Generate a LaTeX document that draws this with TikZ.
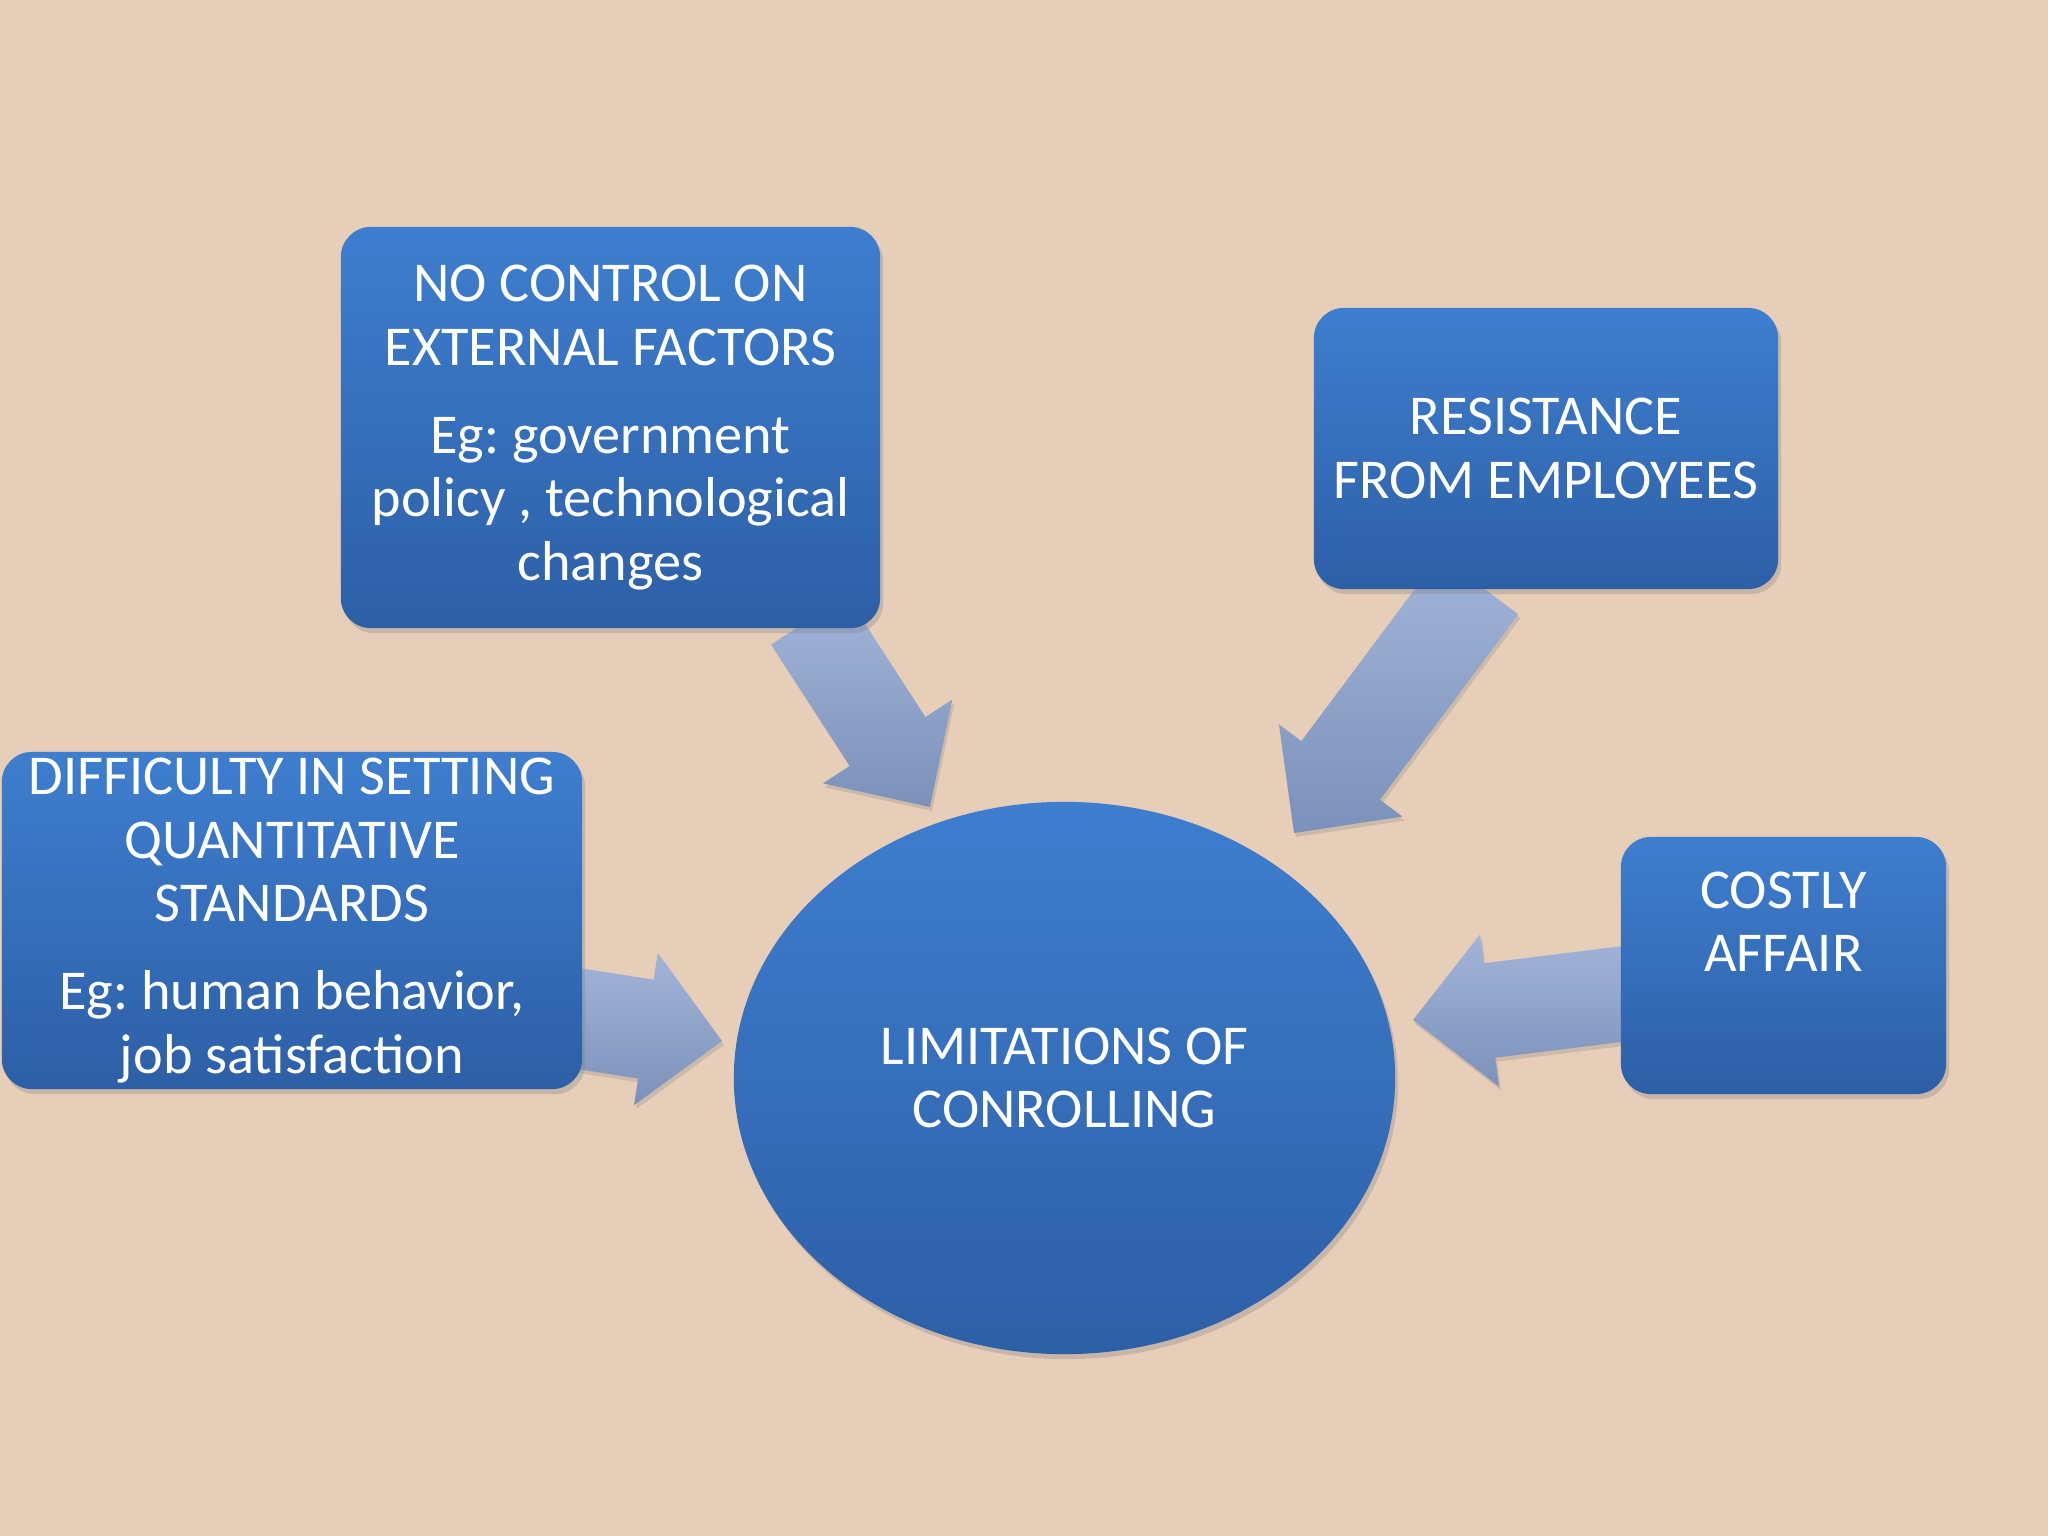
\documentclass[tikz,border=0pt]{standalone}
\usepackage{fontspec}
\setmainfont{Carlito}
\frenchspacing
\usetikzlibrary{calc,shapes.geometric,shadows}
\definecolor{paper}{RGB}{230,206,184}
\definecolor{boxtop}{RGB}{62,126,207}
\definecolor{boxbot}{RGB}{45,95,166}
\definecolor{arrtop}{RGB}{162,180,216}
\definecolor{arrbot}{RGB}{124,145,186}
% #1 start, #2 tip, #3 half shaft, #4 half head, #5 head length
\newcommand\fatarrow[5]{%
  \path (#1) coordinate (fa-s) (#2) coordinate (fa-t);
  \path ($(fa-t)!#5!(fa-s)$) coordinate (fa-h);
  \shade[arrowshade] ($(fa-s)!#3!90:(fa-t)$) -- ($(fa-h)!#3!90:(fa-t)$)
    -- ($(fa-h)!#4!90:(fa-t)$) -- (fa-t) -- ($(fa-h)!#4!-90:(fa-t)$)
    -- ($(fa-h)!#3!-90:(fa-t)$) -- ($(fa-s)!#3!-90:(fa-t)$) -- cycle;}
\begin{document}
\begin{tikzpicture}[x=0.01cm,y=-0.01cm,
    box/.style={rounded corners=0.3cm,top color=boxtop,bottom color=boxbot,
      text=white,align=center,inner sep=0pt,
      drop shadow={opacity=0.3,shadow xshift=0.03cm,shadow yshift=-0.05cm}},
    bubble/.style={ellipse,top color=boxtop,bottom color=boxbot,text=white,
      align=center,inner sep=0pt,
      drop shadow={opacity=0.3,shadow xshift=0.03cm,shadow yshift=-0.05cm}},
    arrowshade/.style={top color=arrtop,bottom color=arrbot,
      drop shadow={opacity=0.25,shadow xshift=0.02cm,shadow yshift=-0.04cm}},
    txt/.style={text=white,align=center,font=\fontsize{16pt}{18pt}\selectfont}]
  \fill[paper] (0,0) rectangle (2048,1536);
  \useasboundingbox (0,0) rectangle (2048,1536);

  \path (610.5,427.5) coordinate (extc) (1546,448.5) coordinate (resc)
        (292,920.5) coordinate (diffc) (1783.5,965.5) coordinate (costc);
  \coordinate (a1s) at (809,620);
  \coordinate (a1t) at (930,807);
  \coordinate (a2s) at (1479,585);
  \coordinate (a2t) at (1294,833);
  \coordinate (a3s) at (575,1018);
  \coordinate (a3t) at (722,1041);
  \coordinate (a4s) at (1630,993);
  \coordinate (a4t) at (1413,1020);

  \fatarrow{a1s}{a1t}{0.45cm}{0.77cm}{0.78cm}
  \fatarrow{a2s}{a2t}{0.49cm}{0.77cm}{0.78cm}
  \fatarrow{a3s}{a3t}{0.50cm}{0.77cm}{0.77cm}
  \fatarrow{a4s}{a4t}{0.475cm}{0.765cm}{0.77cm}

  \node[box,txt,minimum width=5.39cm,minimum height=4.01cm] (ext) at (extc)
    {NO CONTROL ON\\EXTERNAL FACTORS\\[0.25cm]Eg: government\\policy , technological\\changes};
  \node[box,txt,minimum width=4.64cm,minimum height=2.81cm] (res) at (resc)
    {RESISTANCE\\FROM EMPLOYEES};
  \node[box,txt,minimum width=5.80cm,minimum height=3.37cm] (diff) at (diffc)
    {DIFFICULTY IN SETTING\\QUANTITATIVE\\STANDARDS\\[0.25cm]Eg: human behavior,\\job satisfaction};
  \node[box,minimum width=3.25cm,minimum height=2.57cm] (cost) at (costc) {};
  \node[txt] (costtext) at ($(cost.center)+(0,-44)$) {COSTLY\\AFFAIR};
  \node[bubble,txt,minimum width=6.61cm,minimum height=5.52cm] (lim) at (1064.5,1078)
    {LIMITATIONS OF\\CONROLLING};
\end{tikzpicture}
\end{document}
